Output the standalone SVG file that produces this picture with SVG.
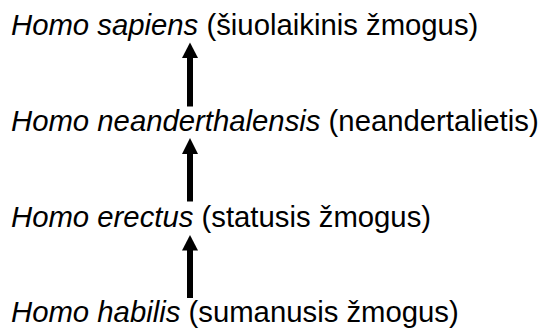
<svg xmlns="http://www.w3.org/2000/svg" width="540" height="329" viewBox="0 0 540 329">
  <style>
    .label { font-family: "Liberation Sans", Arial, Helvetica, sans-serif; font-size: 29.3px; fill: #000; }
    .sci { font-style: italic; }
    .link { stroke: #000; stroke-width: 6; fill: none; }
    .head { fill: #000; }
  </style>
  <rect width="540" height="329" fill="#fff"/>

  <!-- species, newest at top -->
  <g id="homo-sapiens">
    <text class="label" x="11" y="35"><tspan class="sci">Homo sapiens</tspan> (šiuolaikinis žmogus)</text>
  </g>
  <g id="homo-neanderthalensis">
    <text class="label" x="11" y="131"><tspan class="sci">Homo neanderthalensis</tspan> (neandertalietis)</text>
  </g>
  <g id="homo-erectus">
    <text class="label" x="11" y="226.5"><tspan class="sci">Homo erectus</tspan> (statusis žmogus)</text>
  </g>
  <g id="homo-habilis">
    <text class="label" x="11" y="321.5"><tspan class="sci">Homo habilis</tspan> (sumanusis žmogus)</text>
  </g>

  <!-- upward arrows between successive species -->
  <g id="connectors">
    <line class="link" x1="190" y1="106.5" x2="190" y2="56"/>
    <polygon class="head" points="190,42.5 182,58 198,58"/>
    <line class="link" x1="190" y1="201.5" x2="190" y2="152"/>
    <polygon class="head" points="190,138 182,154 198,154"/>
    <line class="link" x1="190" y1="298" x2="190" y2="248"/>
    <polygon class="head" points="190,235 182,250.5 198,250.5"/>
  </g>
</svg>
